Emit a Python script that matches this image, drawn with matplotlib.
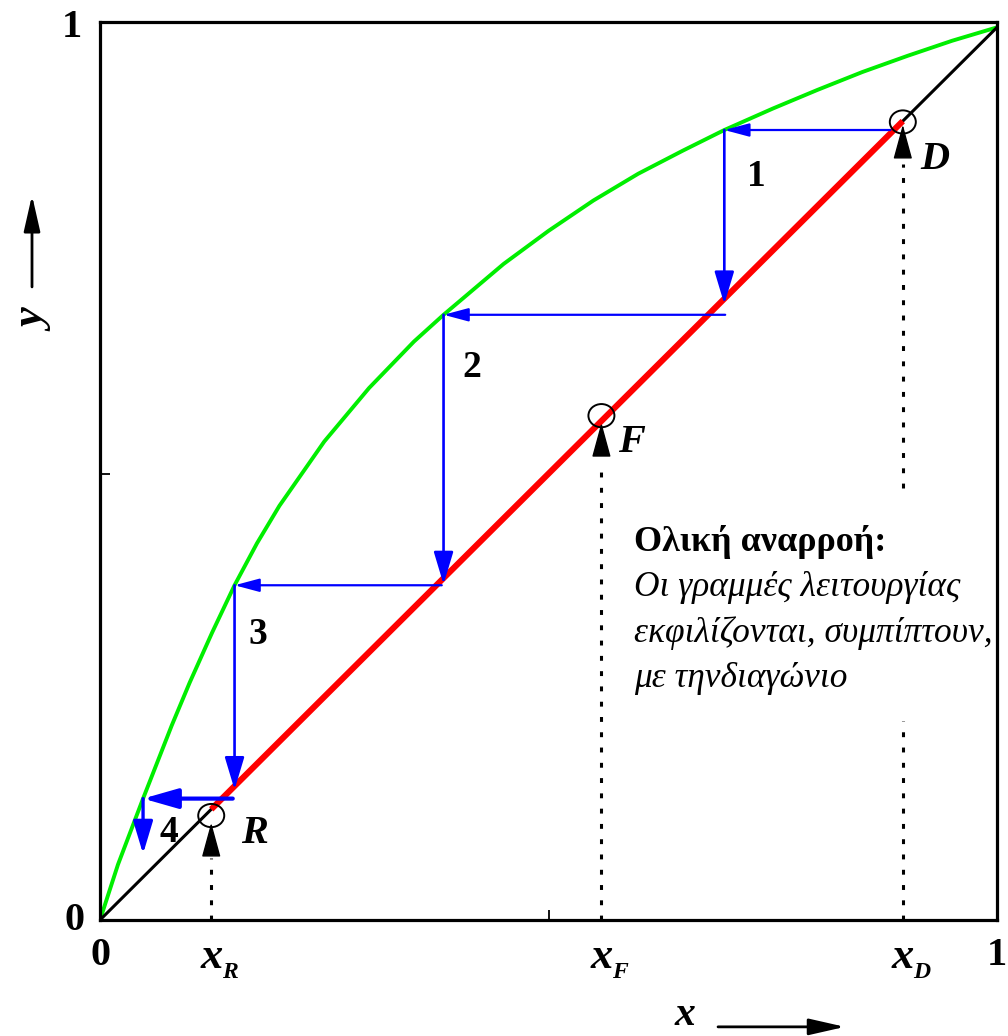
import matplotlib
matplotlib.use("Agg")
import matplotlib.pyplot as plt
from matplotlib.patches import Ellipse

plt.rcParams["font.family"] = ["Liberation Serif", "DejaVu Serif"]

# equilibrium curve y(x)
eq_x = [0.0, 0.02, 0.048, 0.08, 0.1, 0.125, 0.15, 0.175, 0.2, 0.25, 0.3, 0.35,
        0.383, 0.45, 0.5, 0.55, 0.6, 0.65, 0.696, 0.75, 0.8, 0.85, 0.9, 0.95, 1.0]
eq_y = [0.0, 0.062, 0.136, 0.218, 0.266, 0.322, 0.375, 0.422, 0.464, 0.536, 0.596, 0.648,
        0.678, 0.735, 0.772, 0.806, 0.836, 0.862, 0.885, 0.909, 0.93, 0.95, 0.968, 0.985, 1.0]

# compositions of residue, feed, distillate
x_R, x_F, x_D = 0.124, 0.559, 0.895
point_y = [0.117, 0.565, 0.894]
point_names = ["R", "F", "D"]

# stage construction (total reflux)
step_y = [0.885, 0.678, 0.375, 0.136]
step_from = [0.881, 0.697, 0.381, 0.148]
step_x = [0.696, 0.383, 0.150, 0.048]
step_to = [0.690, 0.376, 0.146, 0.074]
step_labels = ["1", "2", "3", "4"]

fig = plt.figure(figsize=(10.08, 10.36), dpi=100)
ax = fig.add_axes([100 / 1008, 116 / 1036, 897 / 1008, 898 / 1036])
ax.set_xlim(0, 1)
ax.set_ylim(0, 1.006)
for s in ax.spines.values():
    s.set_linewidth(2.3)
ax.set_xticks([])
ax.set_yticks([])
ax.set_xticks([0.5], minor=True)
ax.set_yticks([0.5], minor=True)
ax.tick_params(which="minor", direction="in", length=7, width=1.3,
               labelbottom=False, labelleft=False)

ax.plot(eq_x, eq_y, color="#00ee00", lw=2.8, zorder=2)
ax.plot([0, 1], [0, 1], color="black", lw=2.2, zorder=3)
ax.plot([x_R, x_D], [x_R, x_D], color="red", lw=4.4, zorder=4, solid_capstyle="butt")

# steps
for i in range(4):
    hw = 3.0 if i == 3 else 1.6
    hs = "-|>,head_length=2.1,head_width=0.6" if i == 3 else "-|>,head_length=1.5,head_width=0.4"
    ax.annotate("", xy=(step_x[i], step_y[i]), xytext=(step_from[i], step_y[i]),
                arrowprops=dict(arrowstyle=hs, color="blue", lw=hw,
                                shrinkA=0, shrinkB=0), zorder=5)
    vw = 2.4 if i == 3 else 1.9
    ax.annotate("", xy=(step_x[i], step_to[i]), xytext=(step_x[i], step_y[i]),
                arrowprops=dict(arrowstyle="-|>,head_length=2.0,head_width=0.6",
                                color="blue", lw=vw, shrinkA=0, shrinkB=0), zorder=5)

label_pos = [(0.732, 0.833), (0.415, 0.619), (0.176, 0.320), (0.077, 0.098)]
for (lx, ly), t in zip(label_pos, step_labels):
    ax.text(lx, ly, t, fontsize=27, fontweight="bold", ha="center", va="center")

# points R, F, D with arrows and dotted drop lines
xs = [x_R, x_F, x_D]
tips = [0.109, 0.557, 0.891]
bases = [0.080, 0.523, 0.857]
name_pos = [(0.172, 0.097), (0.593, 0.535), (0.931, 0.852)]
for i in range(3):
    ax.add_patch(Ellipse((xs[i], point_y[i]), 0.029, 0.026, fill=False,
                         ec="black", lw=1.4, zorder=6))
    ax.annotate("", xy=(xs[i], tips[i]), xytext=(xs[i], bases[i]),
                arrowprops=dict(arrowstyle="-|>,head_length=2.2,head_width=0.6",
                                color="black", lw=1, shrinkA=0, shrinkB=0), zorder=6)
    ax.text(name_pos[i][0], name_pos[i][1], point_names[i], fontsize=29,
            fontweight="bold", style="italic", ha="center", va="center")

dot = (0, (1.6, 3.4))
ax.plot([x_R, x_R], [0, bases[0] - 0.01], color="black", lw=2.2, ls=dot)
ax.plot([x_F, x_F], [0, bases[1] - 0.01], color="black", lw=2.2, ls=dot)
ax.plot([x_D, x_D], [0.484, bases[2] - 0.01], color="black", lw=2.2, ls=dot)
ax.plot([x_D, x_D], [0, 0.223], color="black", lw=2.2, ls=dot)

# note
ax.text(0.595, 0.423, "Ολική αναρροή:", fontsize=26, fontweight="bold", va="center")
note = ["Οι γραμμές λειτουργίας", "εκφιλίζονται, συμπίπτουν,", "με τηνδιαγώνιο"]
for k, line in enumerate(note):
    ax.text(0.595, 0.372 - k * 0.0505, line, fontsize=25.5, style="italic",
            va="center", clip_on=False)

# axis labels
tx = ax.get_xaxis_transform()
ty = ax.get_yaxis_transform()
num = dict(fontsize=29, fontweight="bold", ha="center", va="center")
ax.text(0, -0.039, "0", transform=tx, **num)
ax.text(1, -0.039, "1", transform=tx, **num)
ax.text(-0.028, 0, "0", transform=ty, **num)
ax.text(-0.031, 1, "1", transform=ty, **num)
for xv, sub in zip(xs, point_names):
    ax.text(xv, -0.041, "x", transform=tx, fontsize=32, fontweight="bold",
            style="italic", ha="center", va="center")
    ax.text(xv + 0.021, -0.059, sub, transform=tx, fontsize=17, fontweight="bold",
            style="italic", ha="center", va="center")

ax.text(0.652, -0.1165, "x", transform=ax.transAxes, fontsize=30, fontweight="bold",
        style="italic", ha="center", va="baseline")
ax.annotate("", xy=(0.8305, -0.119), xytext=(0.689, -0.119), xycoords="axes fraction",
            arrowprops=dict(arrowstyle="-|>,head_length=2.2,head_width=0.5",
                            color="black", lw=2, shrinkA=0, shrinkB=0))
ax.text(-0.0725, 0.667, "y", transform=ax.transAxes, fontsize=32, fontweight="bold",
        style="italic", rotation=90, ha="center", va="center")
ax.annotate("", xy=(-0.0758, 0.807), xytext=(-0.0758, 0.705), xycoords="axes fraction",
            arrowprops=dict(arrowstyle="-|>,head_length=2.2,head_width=0.5",
                            color="black", lw=2, shrinkA=0, shrinkB=0))

fig.savefig("out.png", dpi=100)
